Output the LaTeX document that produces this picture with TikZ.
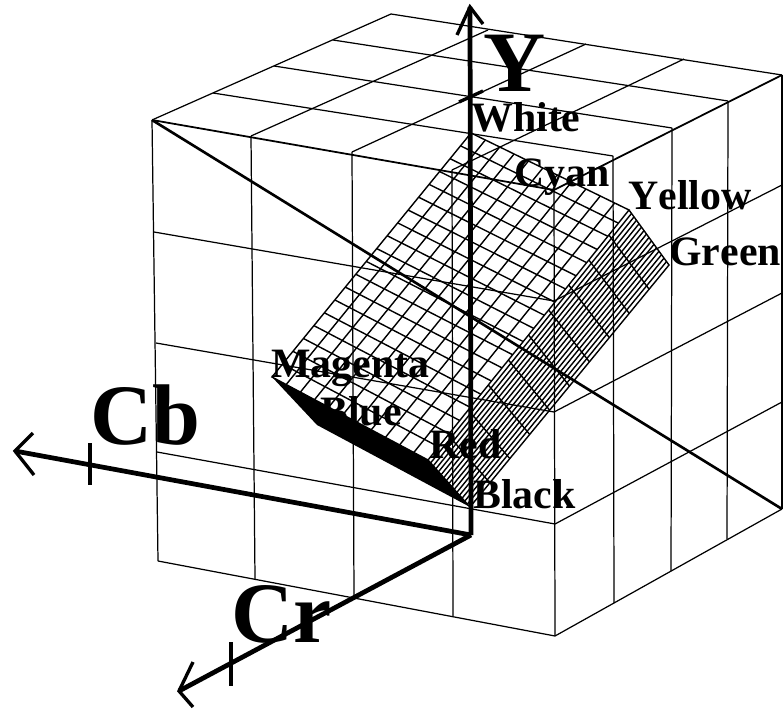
\documentclass[tikz,border=0pt]{standalone}
\usepackage{fontspec}
\setmainfont[Kerning=Off]{Liberation Serif}
\usetikzlibrary{calc}
\tikzset{
  wire/.style={black, line width=0.7pt},
  rim/.style={black, line width=1pt},
  mesh/.style={black, line width=0.8pt},
  axisline/.style={black, line width=2.7pt},
  axishead/.style={black, line width=1.9pt, line join=miter},
  colname/.style={anchor=base west, inner sep=0pt, font=\fontsize{23.8}{26}\bfseries},
  axisname/.style={anchor=base west, inner sep=0pt, font=\fontsize{49}{54}\bfseries}
}
\begin{document}
\begin{tikzpicture}[x=0.02cm,y=-0.02cm]
  \useasboundingbox (0,0) rectangle (783,709);
  % cube, front face
  \foreach \xa/\ya/\xb/\yb in {154/232/554/301, 156/343/554/412, 157/452/555/524, 158/561/555/636,
    152/120/158/561, 251/136/255/579, 352/152/354/597, 452/170/453/616, 554/190/555/636}
    \draw[wire] (\xa,\ya) -- (\xb,\yb);
  % cube, right face
  \foreach \xa/\ya/\xb/\yb in {554/301/782/185, 554/412/782/293, 555/524/782/402, 555/636/782/509,
    613/156/614/603, 672/128/671/571, 728/101/727/539, 782/75/782/509}
    \draw[wire] (\xa,\ya) -- (\xb,\yb);
  % cube, top face
  \foreach \xa/\ya/\xb/\yb in {213/93/613/156, 274/66/672/128, 333/40/728/101,
    251/136/488/30, 352/152/586/44, 452/170/684/59,
    152/120/391/14, 391/14/782/75}
    \draw[wire] (\xa,\ya) -- (\xb,\yb);
  \draw[rim] (152,120) -- (554,190) -- (782,75);
  \draw[black, line width=1.5pt] (152,120) -- (782,509);
  % colour solid
  \coordinate (white) at (471,133);
  \coordinate (yellow) at (629,210);
  \coordinate (green) at (669,265);
  \coordinate (magenta) at (272,377);
  \coordinate (blue) at (317,425);
  \coordinate (red) at (428,460);
  \coordinate (black) at (470,507);
  \fill[black] (magenta) -- (blue) -- (black) -- (red) -- cycle;
  \draw[mesh] (magenta) -- (red) -- (yellow) -- (white) -- cycle;
  \draw[mesh] (red) -- (black) -- (green) -- (yellow);
  \foreach \i in {1,...,10}
    \draw[mesh] ($(magenta)!\i/11!(red)$) -- ($(white)!\i/11!(yellow)$);
  \foreach \i in {1,...,18}
    \draw[mesh] ($(magenta)!\i/19!(white)$) -- ($(red)!\i/19!(yellow)$);
  % dense side
  \foreach \i in {1,...,15}
    \draw[mesh] ($(red)!\i/16!(black)$) -- ($(yellow)!\i/16!(green)$);
  \foreach \i in {1,...,9}
    \draw[mesh] ($(red)!\i/10!(yellow)$) -- ($(black)!\i/10!(green)$);
  % axes
  \coordinate (origin) at (471,535);
  \coordinate (ytip) at (470,7);
  \coordinate (cbtip) at (15,451);
  \coordinate (crtip) at (179,691);
  \draw[axisline] (origin) -- (ytip);
  \draw[axisline] (origin) -- (cbtip);
  \draw[axisline] (origin) -- (crtip);
  \draw[axishead] (457,35) -- (ytip) -- (483,24);
  \draw[axishead] (33,433) -- (cbtip) -- (34,475);
  \draw[axishead] (193,662) -- (crtip) -- (193,707);
  \draw[axishead] (459,102) -- (483,91);
  \draw[axisline] (90,443) -- (90,485);
  \draw[axisline] (231,642) -- (231,686);
  % labels
  \node[axisname] (ylabel) at (483,92) {Y};
  \node[axisname] (cblabel) at (90,444) {Cb};
  \node[axisname] (crlabel) at (231,642) {Cr};
  \node[colname] (whitelabel) at (471,132) {White};
  \node[colname] (cyanlabel) at (514,187) {Cyan};
  \node[colname] (yellowlabel) at (628,210) {Yellow};
  \node[colname] (greenlabel) at (669,265) {Green};
  \node[colname] (magentalabel) at (271,377) {Magenta};
  \node[colname] (bluelabel) at (320,425) {Blue};
  \node[colname] (redlabel) at (429,458) {Red};
  \node[colname] (blacklabel) at (473,508) {Black};
\end{tikzpicture}
\end{document}
